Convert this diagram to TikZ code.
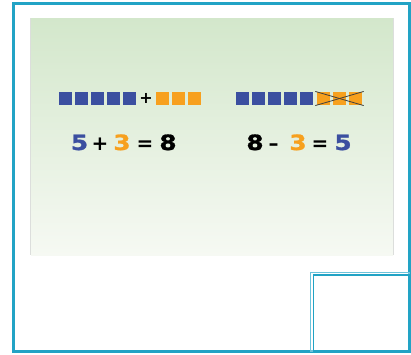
\documentclass[tikz,border=0pt]{standalone}
\usepackage{fontspec}
\setmainfont{DejaVu Sans}
\newfontfamily\eqfont[FakeStretch=1.18,FakeBold=1.2]{DejaVu Sans}
\definecolor{frameC}{RGB}{34,163,197}
\definecolor{frameL}{RGB}{110,195,219}
\definecolor{blueC}{RGB}{59,79,160}
\definecolor{orangeC}{RGB}{247,160,30}
\definecolor{greenTop}{RGB}{211,231,203}
\definecolor{greenBot}{RGB}{246,249,243}
\definecolor{panelEdge}{RGB}{220,222,220}
\begin{document}
\begin{tikzpicture}[x=1pt,y=-1pt,
  sq/.style={minimum width=12.5pt,minimum height=13pt,inner sep=0pt,outer sep=0pt},
  bsq/.style={sq,fill=blueC},
  osq/.style={sq,fill=orangeC},
  eqtxt/.style={font=\eqfont\fontsize{21}{21}\selectfont\bfseries,inner sep=0pt,anchor=base},
  eqop/.style={font=\fontsize{20}{20}\selectfont\bfseries,inner sep=0pt,anchor=base},
  optxt/.style={font=\fontsize{16}{16}\selectfont\bfseries,inner sep=0pt}]
\useasboundingbox (0,0) rectangle (411,354);
% green panel
\shade[top color=greenTop,bottom color=greenBot] (31,18) rectangle (393,255);
\draw[panelEdge,line width=1.2pt] (30.5,18) -- (30.5,255);
\draw[panelEdge,line width=1.2pt] (393.5,18) -- (393.5,255);
% outer frame
\draw[frameC,line width=3pt] (13.5,3.5) rectangle (409.5,351.5);
% small box
\draw[frameL,line width=1.2pt] (310.5,272.5) rectangle (409,351);
\draw[frameC,line width=1.2pt] (313.5,275) rectangle (409,351);
% left row
\foreach \i/\x in {1/65.5,2/81.5,3/97.5,4/113.5,5/129.5}
  \node[bsq] (lb\i) at (\x,98.5) {};
\node[optxt] (lplus) at (146,98.5) {+};
\foreach \i/\x in {1/162.5,2/178.5,3/194.5}
  \node[osq] (lo\i) at (\x,98.5) {};
% right row
\foreach \i/\x in {1/242.5,2/258.5,3/274.5,4/290.5,5/306.5}
  \node[bsq] (rb\i) at (\x,98.5) {};
\foreach \i/\x in {1/323.5,2/339.5,3/355.5}
  \node[osq] (ro\i) at (\x,98.5) {};
\draw[black!75,line width=0.8pt,shorten <=-2pt,shorten >=-2pt] (ro1.north west) -- (ro3.south east);
\draw[black!75,line width=0.8pt,shorten <=-2pt,shorten >=-2pt] (ro1.south west) -- (ro3.north east);
% left equation
\node[eqtxt,text=blueC] (l5) at (79.5,150) {5};
\node[eqop] (lp) at (100,150) {+};
\node[eqtxt,text=orangeC] (l3) at (122,150) {3};
\node[eqop] (leq) at (145,150) {=};
\node[eqtxt] (l8) at (168,150) {8};
% right equation
\node[eqtxt] (r8) at (255,150) {8};
\node[eqop] (rm) at (273.5,150) {–};
\node[eqtxt,text=orangeC] (r3) at (298,150) {3};
\node[eqop] (req) at (320,150) {=};
\node[eqtxt,text=blueC] (r5) at (343,150) {5};
\end{tikzpicture}
\end{document}
